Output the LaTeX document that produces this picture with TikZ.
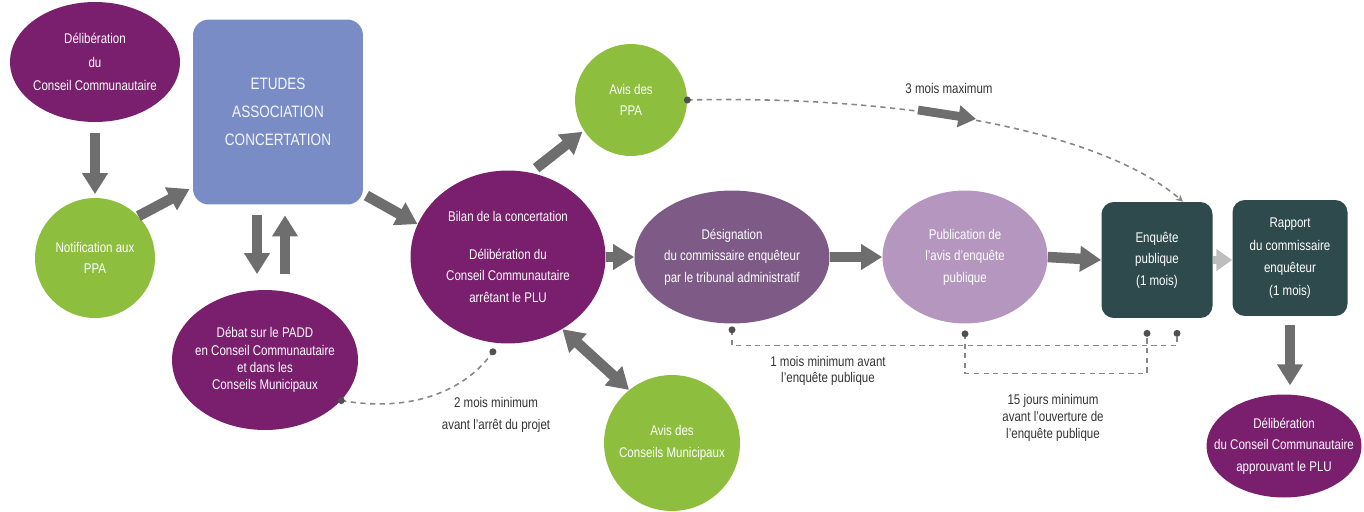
\documentclass[tikz,border=0pt]{standalone}
\usepackage{fontspec}
\setmainfont{Liberation Sans}[FakeStretch=0.82]
\usetikzlibrary{arrows.meta,shapes.geometric}
\definecolor{plum}{RGB}{122,30,110}
\definecolor{leaf}{RGB}{141,190,62}
\definecolor{etudblue}{RGB}{122,140,198}
\definecolor{mauve}{RGB}{126,90,135}
\definecolor{lilac}{RGB}{180,150,190}
\definecolor{inkteal}{RGB}{46,74,77}
\definecolor{arrowgray}{RGB}{110,110,110}
\definecolor{dashgray}{RGB}{135,135,135}
\definecolor{dotgray}{RGB}{80,80,80}
\begin{document}
\begin{tikzpicture}[x=0.02cm,y=-0.02cm]
  \tikzstyle{every node}=[align=center,text=white,font=\fontsize{8}{12.2}\selectfont,inner sep=1pt]
  \tikzstyle{oval}=[ellipse,fill=plum,inner xsep=-14pt,inner ysep=0pt]
  \tikzstyle{disc}=[circle,fill=leaf,inner sep=-6pt]
  \tikzstyle{tile}=[rectangle,rounded corners=7pt,fill=inkteal,minimum height=2.32cm]
  \tikzstyle{fat}=[draw=arrowgray,line width=6pt,-{Triangle[length=12pt,width=14pt]}]
  \tikzstyle{dashy}=[draw=dashgray,line width=0.9pt,dash pattern=on 3pt off 2.5pt]
  \tikzstyle{dot}=[circle,fill=dotgray,inner sep=0pt,minimum size=4pt]
  \tikzstyle{note}=[text=black!80]
  \useasboundingbox (0,0) rectangle (1364,511);

  \node[oval,minimum width=3.4cm,minimum height=2.4cm,font=\fontsize{8}{13.5}\selectfont] (delibA) at (95,62) {Délibération\\du\\Conseil Communautaire};
  \node[disc,minimum size=2.4cm] (notif) at (95,258) {Notification aux\\PPA};
  \node[rectangle,rounded corners=9pt,fill=etudblue,minimum width=3.4cm,minimum height=3.7cm,text=white!92!etudblue,font=\fontsize{9.4}{16}\selectfont] (etudes) at (278,112) {ETUDES\\ASSOCIATION\\CONCERTATION};
  \node[oval,minimum width=3.72cm,minimum height=2.8cm,font=\fontsize{8}{9.8}\selectfont] (debat) at (265,360) {Débat sur le PADD\\en Conseil Communautaire\\et dans les\\Conseils Municipaux};
  \node[oval,minimum width=3.9cm,minimum height=3.46cm] (bilan) at (508,257) {Bilan de la concertation\\[9pt]Délibération du\\Conseil Communautaire\\arrêtant le PLU};
  \node[disc,minimum size=2.24cm] (avisppa) at (631,100) {Avis des\\PPA};
  \node[oval,fill=mauve,minimum width=3.9cm,minimum height=2.66cm] (desig) at (732,257) {Désignation\\du commissaire enquêteur\\par le tribunal administratif};
  \node[oval,fill=lilac,minimum width=3.3cm,minimum height=2.66cm] (publi) at (965,257) {Publication de\\l'avis d'enquête\\publique};
  \node[tile,minimum width=2.22cm] (enquete) at (1157,260) {Enquête\\publique\\(1 mois)};
  \node[tile,minimum width=2.3cm,font=\fontsize{8}{12.8}\selectfont] (rapport) at (1290,258) {Rapport\\du commissaire\\enquêteur\\(1 mois)};
  \node[oval,minimum width=3.1cm,minimum height=2.06cm] (delibB) at (1284,446) {Délibération\\du Conseil Communautaire\\approuvant le PLU};
  \node[disc,minimum size=2.72cm] (aviscm) at (672,443) {Avis des\\Conseils Municipaux};

  \node[note] (l3mois) at (949,88) {3 mois maximum};
  \node[note] (l2mois) at (496,415) {2 mois minimum\\avant l'arrêt du projet};
  \node[note,font=\fontsize{8}{9.5}\selectfont] (l1mois) at (828,371) {1 mois minimum avant\\l'enquête publique};
  \node[note,font=\fontsize{8}{9.5}\selectfont] (l15j) at (1053,418) {15 jours minimum\\avant l'ouverture de\\l'enquête publique};

  \draw[fat,shorten <=6pt,shorten >=2pt] (delibA) -- (notif);
  \draw[fat,shorten >=2pt] (notif.44) -- ([yshift=0.35cm]etudes.south west);
  \draw[fat,shorten <=6pt,shorten >=2pt] ([xshift=-0.42cm]etudes.south) -- ([xshift=-0.42cm,yshift=0.24cm]etudes.south |- debat.north);
  \draw[fat,shorten <=2pt,shorten >=6pt] ([xshift=0.14cm,yshift=0.24cm]etudes.south |- debat.north) -- ([xshift=0.14cm]etudes.south);
  \draw[fat,shorten <=2pt] ([yshift=0.22cm]etudes.south east) -- (bilan.160);
  \draw[fat,shorten <=4pt,shorten >=1pt] (bilan.75) -- (avisppa.213);
  \draw[fat] (bilan.east) -- (desig.west);
  \draw[draw=arrowgray,line width=6pt,{Triangle[length=12pt,width=14pt]}-{Triangle[length=12pt,width=14pt]}] (bilan.-53) -- (aviscm.129);
  \draw[fat] (desig.east) -- (publi.west);
  \draw[fat] (publi.east) -- (enquete.west);
  \draw[draw=arrowgray!45,line width=5pt,-{Triangle[length=9pt,width=12pt]}] (enquete.east) -- (rapport.west |- enquete.east);
  \draw[fat,shorten <=5pt,shorten >=5pt] (rapport.south) -- (rapport.south |- delibB.north);

  \coordinate (tm1) at (918,110);
  \coordinate (tm2) at (976,119);
  \draw[dashy,-{Stealth[length=4pt,width=4pt]}] (avisppa.east) .. controls (900,95) and (1100,130) .. ([xshift=0.52cm]enquete.north);
  \draw[fat,line width=5pt,-{Triangle[length=10pt,width=12pt]}] (tm1) -- (tm2);
  \node[dot] at (avisppa.east) {};

  \coordinate (pd1) at (debat.-28);
  \coordinate (pd2) at ([yshift=-0.18cm]bilan.-100);
  \draw[dashy] (pd1) .. controls (420,414) and (470,385) .. (pd2);
  \node[dot] at (pd1) {};
  \node[dot] at (pd2) {};

  \coordinate (ds) at ([yshift=-0.12cm]desig.south);
  \coordinate (pb) at ([yshift=-0.2cm]publi.south);
  \coordinate (eqA) at ([xshift=0.4cm,yshift=-0.3cm]enquete.south);
  \coordinate (eqB) at ([xshift=-0.2cm,yshift=-0.3cm]enquete.south);
  \draw[dashy] (ds) |- ([yshift=-0.24cm]eqA) -- (eqA);
  \draw[dashy] (pb) |- ([yshift=-0.8cm]eqB) -- (eqB);
  \foreach \p in {ds,pb,eqA,eqB} \node[dot] at (\p) {};
\end{tikzpicture}
\end{document}
